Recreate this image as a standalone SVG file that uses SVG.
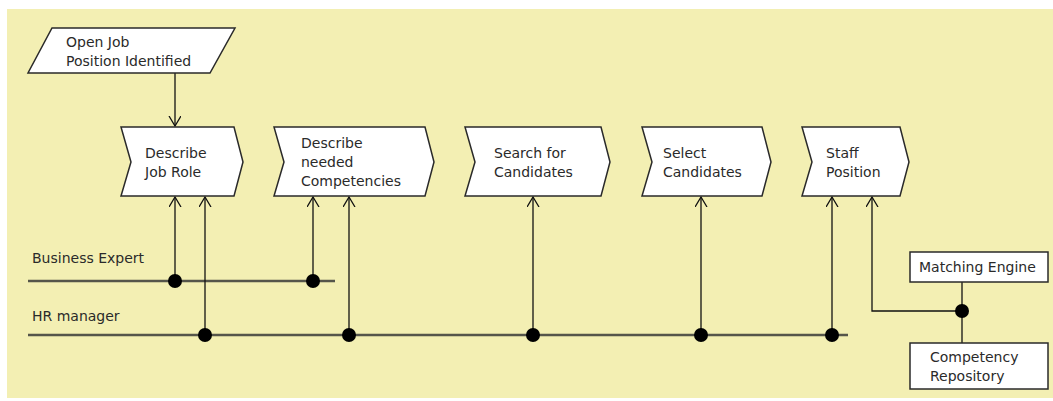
<svg xmlns="http://www.w3.org/2000/svg" width="1053" height="401" viewBox="0 0 1053 401">
<defs>
<style>
.txt{font-family:"DejaVu Sans","Liberation Sans",sans-serif;font-size:14px;fill:#2a2a2a}
.shape{fill:#ffffff;stroke:#2a2a2a;stroke-width:1.5}
.lane{stroke:#55554a;stroke-width:2.5;fill:none}
.conn{stroke:#111;stroke-width:1.3;fill:none}
.dot{fill:#000}
</style>
<marker id="arr" markerWidth="14" markerHeight="14" refX="10" refY="6" orient="auto" markerUnits="userSpaceOnUse">
<path d="M0,0 L10,6 L0,12" fill="none" stroke="#111" stroke-width="1.3"/>
</marker>
</defs>
<rect x="7" y="9" width="1046" height="389" fill="#f3efb3"/>

<g id="lanes">
<line class="lane" x1="28" y1="281" x2="335" y2="281"/>
<text class="txt" x="32" y="263">Business Expert</text>
<line class="lane" x1="28" y1="335" x2="848" y2="335"/>
<text class="txt" x="32" y="321">HR manager</text>
</g>

<g id="connectors">
<line class="conn" x1="175" y1="73" x2="175" y2="126" marker-end="url(#arr)"/>
<line class="conn" x1="175" y1="281" x2="175" y2="197" marker-end="url(#arr)"/>
<line class="conn" x1="205" y1="335" x2="205" y2="197" marker-end="url(#arr)"/>
<line class="conn" x1="313" y1="281" x2="313" y2="197" marker-end="url(#arr)"/>
<line class="conn" x1="349" y1="335" x2="349" y2="197" marker-end="url(#arr)"/>
<line class="conn" x1="533" y1="335" x2="533" y2="197" marker-end="url(#arr)"/>
<line class="conn" x1="701" y1="335" x2="701" y2="197" marker-end="url(#arr)"/>
<line class="conn" x1="832" y1="335" x2="832" y2="197" marker-end="url(#arr)"/>
<polyline class="conn" points="962,311 872,311 872,197" marker-end="url(#arr)"/>
<line class="conn" x1="962" y1="282" x2="962" y2="343"/>
<circle class="dot" cx="175" cy="281" r="7"/>
<circle class="dot" cx="313" cy="281" r="7"/>
<circle class="dot" cx="205" cy="335" r="7"/>
<circle class="dot" cx="349" cy="335" r="7"/>
<circle class="dot" cx="533" cy="335" r="7"/>
<circle class="dot" cx="701" cy="335" r="7"/>
<circle class="dot" cx="832" cy="335" r="7"/>
<circle class="dot" cx="962" cy="311" r="7"/>
</g>

<g id="open-job">
<polygon class="shape" points="52,28 235,28 210,73 28,73"/>
<text class="txt" x="66" y="47">Open Job</text>
<text class="txt" x="66" y="66">Position Identified</text>
</g>

<g id="describe-job-role">
<polygon class="shape" points="121,127 234,127 243,162 234,196 121,196 131,162"/>
<text class="txt" x="145" y="158">Describe</text>
<text class="txt" x="145" y="177">Job Role</text>
</g>

<g id="describe-competencies">
<polygon class="shape" points="274,127 425,127 434,162 425,196 274,196 284,162"/>
<text class="txt" x="301" y="148">Describe</text>
<text class="txt" x="301" y="167">needed</text>
<text class="txt" x="301" y="186">Competencies</text>
</g>

<g id="search-candidates">
<polygon class="shape" points="465,127 601,127 610,162 601,196 465,196 475,162"/>
<text class="txt" x="494" y="158">Search for</text>
<text class="txt" x="494" y="177">Candidates</text>
</g>

<g id="select-candidates">
<polygon class="shape" points="642,127 762,127 771,162 762,196 642,196 652,162"/>
<text class="txt" x="663" y="158">Select</text>
<text class="txt" x="663" y="177">Candidates</text>
</g>

<g id="staff-position">
<polygon class="shape" points="802,127 900,127 909,162 900,196 802,196 812,162"/>
<text class="txt" x="826" y="158">Staff</text>
<text class="txt" x="826" y="177">Position</text>
</g>

<g id="matching-engine">
<rect class="shape" x="910" y="252" width="138" height="30"/>
<text class="txt" x="919" y="272">Matching Engine</text>
</g>

<g id="competency-repository">
<rect class="shape" x="910" y="343" width="138" height="46"/>
<text class="txt" x="930" y="362">Competency</text>
<text class="txt" x="930" y="381">Repository</text>
</g>
</svg>
